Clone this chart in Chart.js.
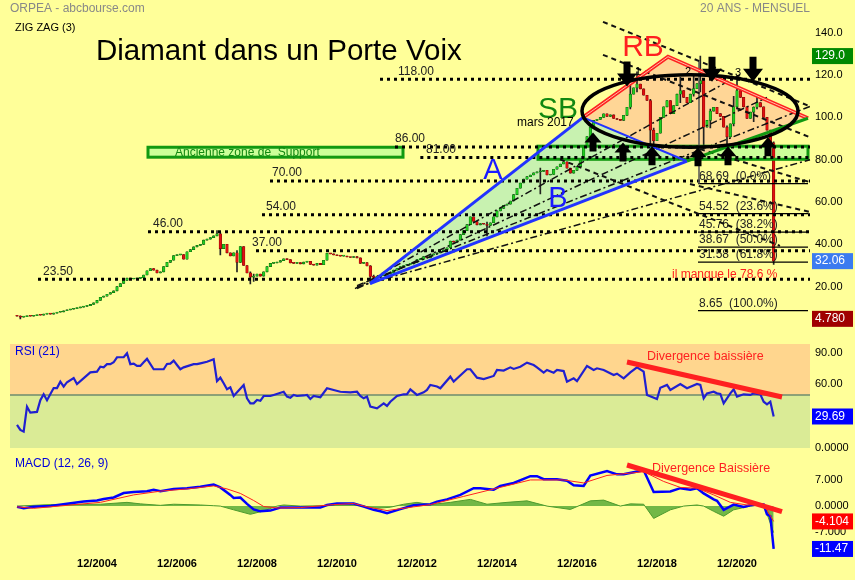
<!DOCTYPE html>
<html>
<head>
<meta charset="utf-8">
<script src="https://cdn.jsdelivr.net/npm/chart.js@4.4.0/dist/chart.umd.min.js"></script>
<style>
  body { margin: 0; background: #ffff99; width: 855px; height: 580px; overflow: hidden; position: relative; }
  canvas { position: absolute; left: 0; }
  #price { top: 0; }
  #rsi { top: 330px; }
  #macd { top: 445px; }
</style>
</head>
<body>
<canvas id="price" width="855" height="345"></canvas>
<canvas id="rsi" width="855" height="130"></canvas>
<canvas id="macd" width="855" height="135"></canvas>
<script>
const FONT = '"Liberation Sans", Arial, sans-serif';

// Monthly closes, index 0 = first month on the chart
const closes = [
  6.0, 5.6, 5.8, 6.1, 6.0, 6.3, 6.6, 6.5, 7.0, 7.2, 7.0, 7.5,
  7.9, 8.1, 8.6, 9.0, 9.3, 9.6, 10.0, 10.3, 10.7, 11.0, 11.6, 12.3,
  13.5, 15.0, 15.5, 16.4, 17.2, 18.0, 20.0, 21.5, 23.0, 24.0, 23.6, 23.7,
  23.9, 24.2, 25.5, 27.5, 28.6, 27.8, 26.5, 27.0, 29.5, 31.5, 32.5, 34.7,
  35.0, 35.2, 33.0, 36.5, 37.5, 38.8, 39.5, 40.0, 42.0, 42.5, 43.2, 44.0,
  45.0, 38.0, 40.0, 36.0, 34.5, 36.0, 31.5, 39.0, 30.0, 26.5, 24.5, 25.0,
  26.0, 25.0, 27.0, 29.5, 31.0, 31.2, 31.6, 32.3, 33.2, 32.8, 31.2, 31.0,
  31.4, 30.8, 31.6, 32.0, 30.5, 30.2, 31.0, 30.4, 32.5, 35.8, 35.5, 35.0,
  34.6, 34.4, 34.5, 34.0, 33.8, 34.2, 33.6, 31.0, 31.4, 29.8, 24.8, 24.4,
  24.8, 25.2, 25.4, 26.0, 26.6, 27.8, 28.6, 29.5, 30.0, 30.5, 30.8, 31.5,
  32.8, 33.0, 34.2, 33.6, 35.0, 35.5, 36.0, 36.5, 37.4, 38.4, 41.5, 41.0,
  42.0, 44.6, 46.5, 49.3, 53.0, 50.8, 49.2, 49.8, 49.5, 49.0, 50.2, 53.0,
  55.8, 57.0, 58.5, 59.0, 60.5, 63.5, 66.5, 69.0, 70.8, 72.0, 72.8, 73.8,
  74.3, 74.5, 75.0, 72.8, 73.0, 75.5, 76.7, 78.0, 79.0, 76.0, 73.7, 75.0,
  76.7, 80.7, 86.0, 91.0, 95.4, 98.6, 99.0, 100.0, 101.7, 100.5, 101.2, 99.5,
  99.0, 98.6, 101.0, 104.8, 111.0, 114.0, 115.8, 113.5, 110.5, 108.0, 94.0, 89.0,
  92.5, 100.0, 105.0, 108.0, 101.8, 105.6, 111.0, 112.7, 109.5, 107.0, 111.0, 113.6,
  116.0, 117.4, 95.4, 98.6, 103.0, 104.8, 101.8, 100.5, 95.4, 90.8, 97.0, 105.0,
  112.7, 109.5, 105.0, 99.5, 102.5, 104.8, 107.0, 105.0, 100.0, 94.0, 88.0, 32.06
];
const firstOpen = 6.3;

// visible wicks
const wickIdx  = [1, 60, 61, 66, 70, 71, 106, 107, 141, 157, 184, 186, 190, 191, 199, 203, 205, 206, 208, 213, 215, 216, 221, 222, 227];
const wickLow  = [4.78, 44.0, 35.0, 27.0, 21.3, 22.5, 22.5, 23.0, 44.0, 63.8, 104, 112, 86.5, 84.5, 107, 110, 112, 85.0, 95, 86.5, 96, 104, 98, 104, 30.5];
const wickHigh = [6.2, 46.5, 45.5, 37.0, 27.0, 26.0, 30.0, 25.5, 50.5, 76.0, 117, 121.5, 108.5, 95.0, 119, 120, 129.0, 117.4, 104, 96.0, 110, 117.5, 105, 110, 88.5];

const priceTicks = [20, 40, 60, 80, 100, 120, 140];
const yearTicks = [24, 48, 72, 96, 120, 144, 168, 192, 216];
const yearLabels = ['12/2004', '12/2006', '12/2008', '12/2010', '12/2012', '12/2014', '12/2016', '12/2018', '12/2020'];

// horizontal supports / resistances
const levelValues = [23.5, 46, 37, 54, 70, 81, 86, 118];
const levelFrom   = [6.3, 39.3, 71.7, 73.5, 75.9, 121, 113.4, 108.9];
const levelLabels = ['23.50', '46.00', '37.00', '54.00', '70.00', '81.00', '86.00', '118.00'];
const levelLabelAt = [7.8, 40.8, 70.5, 74.7, 76.5, 122.7, 113.4, 114.3];

// fibonacci retracement
const fibValues = [68.69, 54.52, 45.76, 38.67, 31.58, 8.65];
const fibLabels = ['68.69  (0.0%)', '54.52  (23.6%)', '45.76  (38.2%)', '38.67  (50.0%)', '31.58  (61.8%)', '8.65  (100.0%)'];

// RSI (21)
const rsiMonths = [0, 1, 2, 3, 4, 6, 7, 8, 9, 11, 12, 13, 14, 15, 17, 18, 22, 24, 25, 26, 27, 28, 29, 30, 32, 33, 34, 35, 36, 37, 38, 39, 41, 44, 45, 46, 47, 48, 49, 50, 53, 54, 55, 57, 59, 60, 61, 62, 63, 64, 65, 68, 69, 70, 71, 72, 73, 74, 76, 77, 80, 81, 82, 83, 84, 86, 87, 88, 89, 91, 93, 95, 97, 100, 102, 103, 104, 105, 106, 108, 110, 111, 112, 114, 116, 117, 118, 120, 122, 123, 124, 126, 127, 130, 131, 135, 136, 138, 140, 143, 144, 146, 148, 149, 151, 153, 155, 156, 158, 159, 161, 162, 164, 165, 167, 168, 171, 173, 174, 176, 179, 180, 182, 184, 186, 188, 189, 192, 193, 195, 196, 199, 201, 204, 205, 206, 207, 209, 210, 211, 212, 214, 215, 216, 218, 220, 221, 223, 224, 225, 226, 227];
const rsiValues = [21.7, 17, 15.4, 39, 33.3, 34, 45, 50.6, 45, 56.5, 56.5, 62.5, 57.8, 62, 66, 60.3, 71.3, 72, 76.6, 76, 79, 79, 80.8, 85.5, 85.5, 89.2, 79, 79.5, 77.3, 77.3, 80.8, 84, 74.2, 74.2, 79.2, 79.5, 82.3, 78.2, 74.2, 76, 79, 79, 79.8, 81.3, 83.6, 63, 66.3, 61, 55.3, 57.2, 49, 59.4, 46.8, 42.1, 42.1, 45.2, 44.5, 49, 49, 50, 53, 48.4, 47.4, 50, 49, 49.5, 50, 46.2, 49, 47.8, 56.3, 54.7, 53, 52.5, 53, 49, 46.8, 48.4, 39, 37.4, 42.1, 39.6, 43.6, 49, 50.6, 50.8, 55.3, 50, 52.5, 54.7, 59.4, 58, 56.3, 67.2, 62.5, 74.2, 74.2, 66.3, 65, 67.9, 73.5, 73, 76, 74.5, 76.6, 80.4, 78.2, 76, 71, 73.5, 71, 73.5, 72.5, 62.5, 65.6, 63, 77.3, 73.5, 75.1, 73.5, 68.8, 70, 65.6, 71.3, 76, 72, 50, 46.2, 56.8, 59.4, 54.7, 60.3, 56.3, 60.3, 59.5, 46.8, 51.5, 53, 51.5, 51, 42.1, 51.5, 55.3, 48.4, 50.6, 50, 51.5, 50.5, 43.6, 41.1, 43.6, 29.69];
const rsiTicks = [0, 30, 60, 90];

// MACD (12, 26, 9)
const macdMonths = [0, 2, 5, 10, 15, 20, 24, 26, 29, 32, 35, 39, 41, 43, 47, 51, 55, 59, 61, 64, 65, 67, 69, 71, 73, 76, 79, 85, 91, 93, 96, 101, 104, 107, 109, 111, 115, 119, 124, 126, 129, 133, 137, 139, 143, 145, 149, 154, 156, 158, 162, 165, 167, 170, 172, 177, 180, 182, 188, 191, 196, 199, 202, 204, 206, 209, 210, 212, 215, 218, 220, 222, 224, 225, 226, 227];
const macdValues = [-0.2, -0.6, -0.2, 0, 0.6, 1.2, 1.5, 1.9, 2.3, 3.5, 3.8, 4.0, 4.4, 4.0, 4.6, 4.8, 5.2, 5.8, 5.0, 3.0, 2.2, 2.3, 0.6, -0.9, -1.4, -1.2, -0.4, -0.4, -0.4, 0.3, 0.7, 0.7, -0.1, -1.0, -1.4, -1.9, -0.8, 0.2, 0.5, 1.2, 1.8, 3.0, 4.8, 4.8, 4.4, 5.4, 6.2, 8.0, 8.0, 7.2, 7.2, 6.8, 5.6, 5.4, 8.2, 9.4, 8.5, 8.5, 9.6, 3.8, 3.9, 4.8, 4.4, 4.8, 3.4, 1.8, 1.4, -1.0, 0.4, -0.2, 0.2, 0.4, 0.4, -2.2, -2.7, -11.47];
const signalMonths = [0, 5, 15, 25, 35, 43, 51, 59, 63, 67, 71, 74, 78, 85, 95, 101, 105, 111, 119, 124, 134, 144, 154, 164, 170, 177, 188, 194, 199, 204, 209, 214, 219, 224, 227];
const signalValues = [-0.2, -0.6, 0.2, 1.0, 3.0, 4.0, 4.6, 5.4, 4.6, 3.4, 1.5, -0.1, -0.5, -0.4, 0.4, 0.7, -0.2, -1.2, -0.2, 0.4, 2.6, 4.8, 7.0, 7.0, 6.2, 8.2, 9.2, 6.6, 5.0, 4.8, 3.0, 1.0, 0.3, 0.5, -4.104];
const histMonths = [0, 10, 25, 33, 37, 43, 47, 55, 59, 61, 65, 70, 74, 78, 80, 85, 92, 100, 104, 108, 112, 116, 120, 124, 130, 136, 141, 147, 153, 159, 166, 172, 176, 181, 184, 188, 191, 196, 200, 204, 206, 209, 212, 215, 220, 224, 227];
const histValues = [0, 0.4, 0.5, 1.0, 0.6, 0.2, 0.5, 0.3, 0.1, 0, -1.0, -2.2, -1.3, 0, 0.3, 0, 0.1, 0.3, 0, -0.6, -0.3, 0.5, 1.0, 0.4, 1.0, 1.8, 0.5, 1.0, 1.4, 0, -0.9, 1.4, 1.6, 0, 0.6, 0.5, -3.3, -1.0, 0, 0.3, 0, -1.4, -2.7, -1.0, 0, 0.4, -7.1];
const macdTicks = [-7, 0, 7];

// ---- drawing helpers ----
function pt(chart, p) {
  return [chart.scales.x.getPixelForValue(p[0]), chart.scales.y.getPixelForValue(p[1])];
}
function path(ctx, pts, color, width, dash) {
  ctx.beginPath();
  ctx.strokeStyle = color; ctx.lineWidth = width; ctx.setLineDash(dash || []);
  pts.forEach((p, k) => k ? ctx.lineTo(p[0], p[1]) : ctx.moveTo(p[0], p[1]));
  ctx.stroke();
  ctx.setLineDash([]);
}
function poly(ctx, pts, fill) {
  ctx.beginPath();
  pts.forEach((p, k) => k ? ctx.lineTo(p[0], p[1]) : ctx.moveTo(p[0], p[1]));
  ctx.closePath(); ctx.fillStyle = fill; ctx.fill();
}
function label(ctx, s, x, y, color, size, align, base, weight) {
  ctx.font = (weight || 'normal') + ' ' + size + 'px ' + FONT;
  ctx.fillStyle = color; ctx.textAlign = align || 'left'; ctx.textBaseline = base || 'middle';
  ctx.fillText(s, x, y);
}
function arrow(ctx, x, y, down, len, head, headLen, shaft) {
  const s = down ? -1 : 1;
  ctx.beginPath();
  ctx.moveTo(x, y);
  ctx.lineTo(x + head / 2, y + s * headLen);
  ctx.lineTo(x + shaft / 2, y + s * headLen);
  ctx.lineTo(x + shaft / 2, y + s * len);
  ctx.lineTo(x - shaft / 2, y + s * len);
  ctx.lineTo(x - shaft / 2, y + s * headLen);
  ctx.lineTo(x - head / 2, y + s * headLen);
  ctx.closePath();
  ctx.fillStyle = '#000'; ctx.fill();
}
function valueBox(chart, v, text, bg) {
  const ctx = chart.ctx, y = chart.scales.y.getPixelForValue(v), x = chart.chartArea.right + 2;
  ctx.fillStyle = bg; ctx.fillRect(x, y - 8, 41, 16);
  label(ctx, text, x + 3, y, '#fff', 12);
}

// ---- price annotations (in month / price units) ----
const supportZones = [[39.3, 115.8, 85.9, 81.2], [156.3, 237.3, 86.4, 80.2]];
const megaphone = [[105.9, 21.4], [169.8, 100], [201, 79.3]];
const diamond = [[169.8, 100], [195.3, 128.7], [237.3, 99.6], [201, 79.3]];
const dashedLines = [
  [[175.8, 145.2], [237.9, 105.2]],
  [[175.8, 129.6], [237.9, 90.6]],
  [[162.9, 80.2], [228.9, 39.3]],
  [[204.9, 85], [237.9, 69.4]],
  [[201.9, 68.5], [237.9, 55.3]]
];
const dashDotLines = [
  [[101.4, 19.1], [216.9, 120.2]],
  [[102, 19.1], [225, 109.4]],
  [[102, 20.5], [237.9, 105.2]],
  [[102, 20], [237.9, 80]]
];
const downArrows = [[183, 114.6], [208.5, 116.9], [220.8, 116.9]];
const upArrows = [[172.8, 92.9], [181.8, 88.2], [190.5, 86.4], [204.3, 85.9], [213.3, 86.4], [225.3, 90.6]];
const notes = [
  ['RB', 187.8, 133, '#ff2020', 30, 'center'],
  ['SB', 162.3, 103.8, '#118811', 30, 'center'],
  ['A', 142.8, 74.6, '#1a1aff', 29, 'center'],
  ['B', 162.3, 61.4, '#1a1aff', 29, 'center'],
  ['mars 2017', 150, 97.7, '#000', 12, 'left'],
  ['1', 186.3, 121.6, '#000', 11, 'center'],
  ['2', 201.3, 121.6, '#000', 11, 'center'],
  ['3', 216.3, 121.2, '#000', 11, 'center'],
  ['il manque le 78.6 %', 196.5, 25.6, '#ff2020', 12, 'left'],
  ['Ancienne zone de  Support', 47.4, 83.5, '#118811', 12, 'left']
];

const priceNotes = {
  id: 'priceNotes',
  beforeDatasetsDraw(chart) {
    const ctx = chart.ctx, P = p => pt(chart, p);
    ctx.save();
    supportZones.forEach(z => {
      const a = P([z[0], z[2]]), b = P([z[1], z[3]]);
      ctx.fillStyle = '#ccff99'; ctx.fillRect(a[0], a[1], b[0] - a[0], b[1] - a[1]);
    });
    poly(ctx, megaphone.map(P), 'rgba(190,240,180,0.85)');
    poly(ctx, diamond.map(P), 'rgba(255,200,150,0.75)');
    ctx.restore();
  },
  afterDatasetsDraw(chart) {
    const ctx = chart.ctx, P = p => pt(chart, p), right = chart.chartArea.right;
    ctx.save();
    supportZones.forEach(z => {
      const a = P([z[0], z[2]]), b = P([z[1], z[3]]);
      ctx.strokeStyle = '#119911'; ctx.lineWidth = 3; ctx.strokeRect(a[0], a[1], b[0] - a[0], b[1] - a[1]);
    });
    levelValues.forEach((v, k) => {
      const a = P([levelFrom[k], v]);
      path(ctx, [a, [right, a[1]]], '#000', 3, [3, 4]);
      const l = P([levelLabelAt[k], v]);
      label(ctx, levelLabels[k], l[0], a[1] - 2, '#222', 12, 'left', 'bottom');
    });
    fibValues.forEach((v, k) => {
      const a = P([204.3, v]), b = P([237.3, v]);
      path(ctx, [a, b], '#000', 1.2);
      label(ctx, fibLabels[k], a[0] + 1, a[1] - 1, '#222', 12, 'left', 'bottom');
    });
    path(ctx, [P([204.6, 126.4]), P([204.6, 68.69])], '#555', 1.5);
    dashDotLines.forEach(l => path(ctx, l.map(P), '#111', 1.5, [7, 3, 2, 3]));
    dashedLines.forEach(l => path(ctx, l.map(P), '#111', 2, [5, 4]));
    const m = megaphone.map(P);
    path(ctx, [m[0], m[1]], '#2233ff', 3);
    path(ctx, [m[0], m[2]], '#2233ff', 3);
    path(ctx, [m[1], m[2]], '#2233ff', 2);
    const d = diamond.map(P);
    path(ctx, [d[0], d[1], d[2]], '#ff2020', 4);
    path(ctx, [d[0], d[1], d[2]], '#ffc0a0', 1);
    path(ctx, [d[3], d[2]], '#119911', 3);
    const e1 = P([169.5, 120.2]), e2 = P([234.3, 85.9]);
    ctx.beginPath();
    ctx.ellipse((e1[0] + e2[0]) / 2, (e1[1] + e2[1]) / 2, (e2[0] - e1[0]) / 2, (e2[1] - e1[1]) / 2, 0, 0, Math.PI * 2);
    ctx.strokeStyle = '#000'; ctx.lineWidth = 3.5; ctx.stroke();
    downArrows.forEach(a => { const p = P(a); arrow(ctx, p[0], p[1], true, 25, 20, 13, 7); });
    upArrows.forEach(a => { const p = P(a); arrow(ctx, p[0], p[1], false, 19, 17, 10, 7); });
    notes.forEach(n => { const p = P([n[1], n[2]]); label(ctx, n[0], p[0], p[1], n[3], n[4], n[5]); });
    ctx.restore();
  },
  afterDraw(chart) {
    const ctx = chart.ctx;
    ctx.save();
    label(ctx, 'ORPEA - abcbourse.com', 10, 9, '#888', 12);
    label(ctx, '20 ANS - MENSUEL', 810, 9, '#888', 12, 'right');
    label(ctx, 'ZIG ZAG (3)', 15, 28, '#000', 11);
    label(ctx, 'Diamant dans un Porte Voix', 96, 52, '#000', 29.5);
    valueBox(chart, 129.0, '129.0', '#008800');
    valueBox(chart, 32.06, '32.06', '#3b7bf0');
    valueBox(chart, 4.78, '4.780', '#a00000');
    ctx.restore();
  }
};

const rsiNotes = {
  id: 'rsiNotes',
  beforeDatasetsDraw(chart) {
    const ctx = chart.ctx, a = chart.chartArea, y50 = chart.scales.y.getPixelForValue(50);
    ctx.save();
    ctx.fillStyle = '#ffd68e'; ctx.fillRect(a.left, a.top, a.right - a.left, y50 - a.top);
    ctx.fillStyle = '#daeb96'; ctx.fillRect(a.left, y50, a.right - a.left, a.bottom - y50);
    path(ctx, [[a.left, y50], [a.right, y50]], '#6e8b6e', 1.5);
    ctx.restore();
  },
  afterDatasetsDraw(chart) {
    const ctx = chart.ctx, P = p => pt(chart, p);
    ctx.save();
    path(ctx, [P([183, 81]), P([229.5, 48])], '#ff2020', 5);
    const t = P([189, 85.8]);
    label(ctx, 'Divergence baissière', t[0], t[1], '#ff2020', 12.5);
    label(ctx, 'RSI (21)', chart.chartArea.left + 5, chart.chartArea.top + 8, '#0000dd', 12);
    valueBox(chart, 29.69, '29.69', '#0000ff');
    ctx.restore();
  }
};

const macdNotes = {
  id: 'macdNotes',
  afterDatasetsDraw(chart) {
    const ctx = chart.ctx, P = p => pt(chart, p);
    ctx.save();
    path(ctx, [P([183, 11]), P([229.5, -1.5])], '#ff2020', 5);
    const t = P([190.5, 10]);
    label(ctx, 'Divergence Baissière', t[0], t[1], '#ff2020', 12.5);
    label(ctx, 'MACD (12, 26, 9)', chart.chartArea.left + 5, chart.chartArea.top + 7, '#0000dd', 12);
    valueBox(chart, -4.104, '-4.104', '#ff0000');
    valueBox(chart, -11.47, '-11.47', '#0000ff');
    ctx.restore();
  }
};

// ---- shared scales ----
function xScale(show) {
  return {
    type: 'linear', min: -2.1, max: 237.9, offset: false, display: show,
    grid: { display: false, drawTicks: false }, border: { display: false },
    afterBuildTicks: s => { s.ticks = yearTicks.map(v => ({ value: v })); },
    ticks: {
      autoSkip: false, maxRotation: 0, padding: 5, color: '#000',
      font: { family: FONT, size: 11, weight: 'bold' },
      callback: v => yearLabels[yearTicks.indexOf(v)]
    }
  };
}
function fmt(v) { return v === 0 ? '0.0000' : Number(v).toPrecision(4); }
function yScale(min, max, list) {
  return {
    position: 'right', min: min, max: max,
    grid: { display: false, drawTicks: false }, border: { display: false },
    afterBuildTicks: s => { s.ticks = list.map(v => ({ value: v })); },
    afterFit: s => { s.width = 45; },
    ticks: { padding: 5, color: '#000', font: { family: FONT, size: 11 }, callback: fmt }
  };
}
function baseOptions(padding, xs, ys) {
  return {
    responsive: false, animation: false, layout: { padding: padding },
    plugins: { legend: { display: false }, tooltip: { enabled: false } },
    scales: { x: xs, y: ys }
  };
}

// ---- price chart ----
const opens = closes.map((c, i) => i ? closes[i - 1] : firstOpen);
const lows = closes.map((c, i) => Math.min(c, opens[i]));
const highs = closes.map((c, i) => Math.max(c, opens[i]));
wickIdx.forEach((k, j) => { lows[k] = wickLow[j]; highs[k] = wickHigh[j]; });
const up = closes.map((c, i) => c >= opens[i]);

new Chart(document.getElementById('price'), {
  type: 'bar',
  data: {
    datasets: [{
      data: closes.map((c, i) => ({ x: i, y: [lows[i], highs[i]] })),
      backgroundColor: '#222', barThickness: 1, grouped: false, order: 2
    }, {
      data: closes.map((c, i) => ({ x: i, y: [opens[i], c] })),
      backgroundColor: up.map(u => u ? '#22cc22' : '#e01010'),
      borderColor: up.map(u => u ? '#0b6e0b' : '#8a0000'),
      borderWidth: 0.6, borderSkipped: false,
      barThickness: 2.6, minBarLength: 1, grouped: false, order: 1
    }]
  },
  options: baseOptions({ left: 10, right: 0, top: 18, bottom: 10 }, xScale(false), yScale(-2.1, 147, priceTicks)),
  plugins: [priceNotes]
});

// ---- RSI chart ----
new Chart(document.getElementById('rsi'), {
  type: 'line',
  data: {
    datasets: [{
      data: rsiMonths.map((m, k) => ({ x: m, y: rsiValues[k] })),
      borderColor: '#2020d0', borderWidth: 2.2, pointRadius: 0, tension: 0
    }]
  },
  options: baseOptions({ left: 10, right: 0, top: 14, bottom: 12 }, xScale(false), yScale(0, 98, rsiTicks)),
  plugins: [rsiNotes]
});

// ---- MACD chart ----
new Chart(document.getElementById('macd'), {
  type: 'line',
  data: {
    datasets: [{
      data: histMonths.map((m, k) => ({ x: m, y: histValues[k] })),
      borderColor: '#4e9a2e', backgroundColor: '#72b846', borderWidth: 1,
      fill: 'origin', pointRadius: 0, tension: 0, order: 3
    }, {
      data: macdMonths.map((m, k) => ({ x: m, y: macdValues[k] })),
      borderColor: '#0000ff', borderWidth: 2.5, pointRadius: 0, tension: 0, order: 2
    }, {
      data: signalMonths.map((m, k) => ({ x: m, y: signalValues[k] })),
      borderColor: '#ff2020', borderWidth: 1, pointRadius: 0, tension: 0, order: 1
    }]
  },
  options: baseOptions({ left: 10, right: 0, top: 10, bottom: 4 }, xScale(true), yScale(-12.5, 13.25, macdTicks)),
  plugins: [macdNotes]
});
</script>
</body>
</html>
